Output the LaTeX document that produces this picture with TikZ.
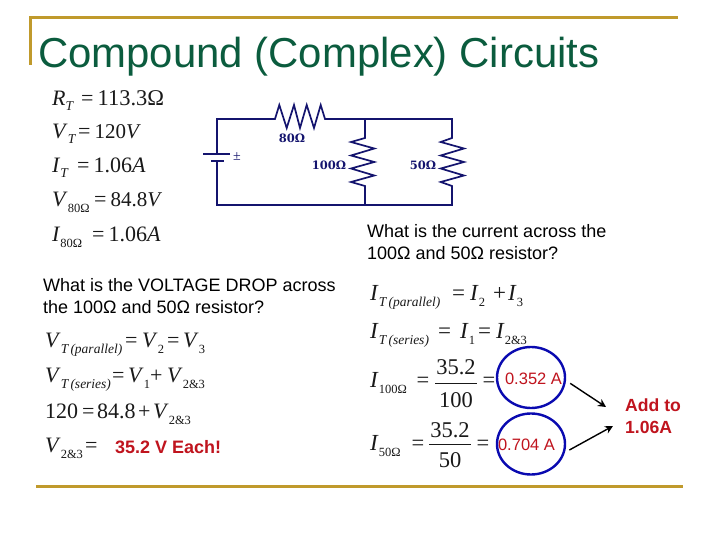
\documentclass[tikz,border=0pt]{standalone}
\usepackage{fontspec}
\setmainfont{Liberation Serif}
\newfontfamily\arialfont{Liberation Sans}
\newfontfamily\labelfont{DejaVu Serif}
\usetikzlibrary{shapes.geometric,arrows.meta}
\definecolor{gold}{HTML}{C09A2C}
\definecolor{titlegreen}{HTML}{0B5C3E}
\definecolor{wire}{HTML}{14146E}
\definecolor{redtxt}{HTML}{C0141E}
\definecolor{ringblue}{HTML}{0A0AB0}
\newcommand{\Sb}[1]{\raisebox{-6pt}{\fontsize{12.5}{12.5}\selectfont #1}}
\newcommand{\Sm}[1]{\raisebox{-6pt}{\fontsize{13.5}{13.5}\selectfont\itshape #1}}
\newcommand{\St}[1]{\raisebox{-4.5pt}{\fontsize{13.5}{13.5}\selectfont\itshape #1}}
\newcommand{\Vv}{\textit{V}}
\newcommand{\Ii}{\textit{I}}
\newcommand{\Bx}[2]{\makebox[#1pt][l]{#2}}
\tikzset{
  eqn/.style={anchor=base west,inner sep=0pt,font=\fontsize{22}{22}\selectfont,text=black!90},
  eqr/.style={eqn,font=\fontsize{23}{23}\selectfont},
  num/.style={anchor=base,inner sep=0pt,font=\fontsize{22.5}{22.5}\selectfont,text=black!90},
  body/.style={anchor=base west,inner sep=0pt,align=left,font=\arialfont\fontsize{18}{22}\selectfont,text=black},
  hot/.style={inner sep=0pt,font=\arialfont\fontsize{16.5}{16.5}\selectfont,text=redtxt},
  wirel/.style={draw=wire,line width=1.7pt,line join=miter},
  rlabel/.style={inner sep=0pt,font=\labelfont\bfseries\fontsize{11.5}{11.5}\selectfont,text=wire},
  goldline/.style={draw=gold,line width=3pt},
  ring/.style={ellipse,draw=ringblue,line width=2.4pt,inner sep=0pt,minimum width=68pt,minimum height=61pt},
  pointer/.style={draw=black,line width=1.4pt,-{Stealth[length=8pt,width=8pt]},shorten <=5pt},
  fracbar/.style={draw=black!90,line width=0.9pt}
}
\begin{document}
\begin{tikzpicture}[x=1pt,y=-1pt]
\useasboundingbox[fill=white] (0,0) rectangle (720,540);
% frame
\draw[goldline] (30,65) -- (30,18) -- (678,18);
\draw[goldline] (36,486) -- (683,486);
\node[anchor=base west,inner sep=0pt,text=titlegreen,font=\arialfont\fontsize{41.9}{42}\selectfont] (title) at (38,68) {Compound (Complex) Circuits};
% circuit
\coordinate (tl) at (217,119); \coordinate (bl) at (217,205);
\coordinate (tm) at (365,119); \coordinate (bm) at (365,205);
\coordinate (tr) at (452,119); \coordinate (br) at (452,205);
\coordinate (b1) at (217,154); \coordinate (b2) at (217,161);
\draw[wirel] (b1) -- (tl) -- (275,119) -- (279.3,105) -- (286.7,128) -- (294,105) -- (300,128) -- (306.7,105) -- (314,128) -- (320.7,105) -- (325,119) -- (tm) -- (tr)
  -- (452,138) -- (440.7,142) -- (464,148.5) -- (440.7,155.5) -- (464,162) -- (440.7,168.5) -- (464,175.5) -- (440.7,182) -- (452,186) -- (br) -- (bm) -- (bl) -- (b2);
\draw[wirel] (tm) -- (365,138) -- (351,142) -- (374.3,148.5) -- (351,155.5) -- (374.3,162) -- (351,168.5) -- (374.3,175.5) -- (351,182) -- (365,186) -- (bm);
\draw[wirel] (203,154) -- (230,154);
\draw[wirel] (211,161) -- (224,161);
\node[inner sep=0pt,text=wire,font=\fontsize{14}{14}\selectfont] (pm) at (237,157) {±};
\node[rlabel] (r80) at (292,138) {80Ω};
\node[rlabel] (r100) at (329,165) {100Ω};
\node[rlabel] (r50) at (423,165) {50Ω};
% top-left equations
\node[eqn] (e1) at (52,106) {\Bx{29}{\textit{R}\St{T}}=\hspace{4pt}{\fontsize{22.5}{22.5}\selectfont 113.3Ω}};
\node[eqn] (e2) at (52,139) {\Bx{26}{\Vv\St{T}}=\hspace{4pt}{\fontsize{21}{21}\selectfont 120\Vv}};
\node[eqn] (e3) at (52,173) {\Bx{25}{\Ii\St{T}}=\hspace{4pt}1.06\textit{A}};
\node[eqn] (e4) at (52,207) {\Bx{42}{\Vv\Sb{80Ω}}=\hspace{4pt}{\fontsize{21}{21}\selectfont 84.8\Vv}};
\node[eqn] (e5) at (52,241) {\Bx{40}{\Ii\Sb{80Ω}}=\hspace{4pt}1.06\textit{A}};
% questions
\node[body] (q1) at (367,259) {What is the current across the\\100Ω and 50Ω resistor?};
\node[body] (q2) at (43,313) {What is the VOLTAGE DROP across\\the 100Ω and 50Ω resistor?};
% left equations
\node[eqn] (l1) at (45,347) {\Bx{80}{\Vv\Sm{T\,(parallel)}}\Bx{17}{=}\Bx{25}{\Vv\Sb{2}}\Bx{16}{=}\Vv\Sb{3}};
\node[eqn] (l2) at (45,382) {\Bx{67}{\Vv\Sm{T\,(series)}}\Bx{16}{=}\Bx{22}{\Vv\Sb{1}}\Bx{17}{+}\Vv\Sb{2\&3}};
\node[eqn] (l3) at (45,418) {\Bx{37}{120}\Bx{15}{=}\Bx{41}{84.8}\Bx{15}{+}\Vv\Sb{2\&3}};
\node[eqn] (l4) at (45,452) {\Bx{40}{\Vv\Sb{2\&3}}=};
\node[anchor=base west,inner sep=0pt,text=redtxt,font=\arialfont\bfseries\fontsize{18}{18}\selectfont] (ans) at (115,453) {35.2 V Each!};
% right equations
\node[eqr] (r1) at (370,300) {\Bx{82}{\Ii\Sm{T\,(parallel)}}\Bx{18}{=}\Bx{23}{\Ii\Sb{2}}\Bx{15}{+}\Ii\Sb{3}};
\node[eqr] (r2) at (370,338) {\Bx{68}{\Ii\Sm{T\,(series)}}\Bx{22}{=}\Bx{18}{\Ii\Sb{1}}\Bx{18}{=}\Ii\Sb{2\&3}};
\node[eqr] (r3) at (370,387) {\Ii\Sb{100Ω}};
\node[num] (r3e) at (423,387) {=};
\node[num] (r3n) at (456,374) {35.2};
\node[num] (r3d) at (456,407) {100};
\draw[fracbar] (435,383) -- (477,383);
\node[num] (r3f) at (489,387) {=};
\node[eqr] (r4) at (370,450) {\Ii\Sb{50Ω}};
\node[num] (r4e) at (418,450) {=};
\node[num] (r4n) at (450,437) {35.2};
\node[num] (r4d) at (450,467) {50};
\draw[fracbar] (429,444) -- (471,444);
\node[num] (r4f) at (483,450) {=};
% answers
\node[hot] (a1) at (533.5,379) {0.352 A};
\node[hot] (a2) at (526.5,445) {0.704 A};
\node[ring] (c1) at (531,377.5) {};
\node[ring] (c2) at (531,444) {};
\node[anchor=base west,inner sep=0pt,align=left,text=redtxt,font=\arialfont\bfseries\fontsize{17.6}{22}\selectfont] (add) at (625,433) {Add to\\1.06A};
\coordinate (t1) at (606,407);
\coordinate (t2) at (613,426);
\draw[pointer] (c1.-5) -- (t1);
\draw[pointer] (c2.-14) -- (t2);
\end{tikzpicture}
\end{document}
